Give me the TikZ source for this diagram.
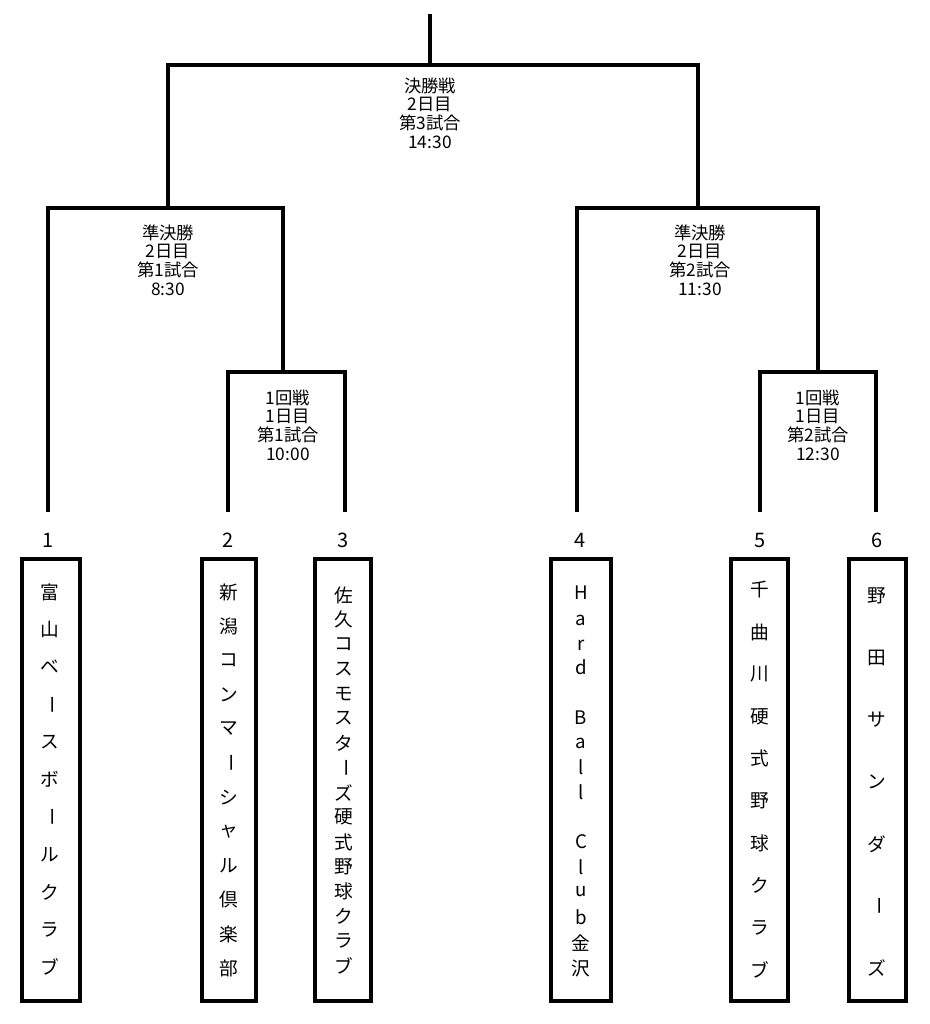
\documentclass[tikz,border=0pt]{standalone}
\usepackage{fontspec}
\setmainfont{Noto Sans CJK JP}
\begin{document}
\begin{tikzpicture}[x=0.75pt,y=-0.75pt,
  ln/.style={line width=2.3pt},
  bx/.style={draw,line width=3.6pt},
  lab/.style={font=\fontsize{13}{15}\selectfont,align=center,inner sep=0pt},
  ch/.style={font=\fontsize{14}{16}\selectfont,inner sep=0pt},
  num/.style={font=\fontsize{15}{17}\selectfont,inner sep=0pt}]
\useasboundingbox (0,0) rectangle (930,1024);
% coordinates
\coordinate (top) at (430,14);
\coordinate (f) at (430,65);
\coordinate (fl) at (168,65); \coordinate (fr) at (698,65);
\coordinate (sl) at (168,208); \coordinate (sr) at (698,208);
\coordinate (sll) at (48,208); \coordinate (slr) at (283,208);
\coordinate (srl) at (577,208); \coordinate (srr) at (818,208);
\coordinate (ql) at (283,372); \coordinate (qr) at (818,372);
\coordinate (qll) at (228,372); \coordinate (qlr) at (345,372);
\coordinate (qrl) at (760,372); \coordinate (qrr) at (876,372);
\coordinate (e1) at (48,512); \coordinate (e2) at (228,512); \coordinate (e3) at (345,512);
\coordinate (e4) at (577,512); \coordinate (e5) at (760,512); \coordinate (e6) at (876,512);
\draw[ln] (top) -- (f);
\draw[ln] (sl) -- (fl) -- (fr) -- (sr);
\draw[ln] (e1) -- (sll) -- (slr) -- (ql);
\draw[ln] (e4) -- (srl) -- (srr) -- (qr);
\draw[ln] (e2) -- (qll) -- (qlr) -- (e3);
\draw[ln] (e5) -- (qrl) -- (qrr) -- (e6);
% labels
\node[lab] (Lf) at (430,113) {決勝戦\\[-1pt]2日目\\[-1pt]第3試合\\[-1pt]14:30};
\node[lab] (Ls1) at (168,260) {準決勝\\[-1pt]2日目\\[-1pt]第1試合\\[-1pt]8:30};
\node[lab] (Ls2) at (700,260) {準決勝\\[-1pt]2日目\\[-1pt]第2試合\\[-1pt]11:30};
\node[lab] (Lq1) at (288,425) {1回戦\\[-1pt]1日目\\[-1pt]第1試合\\[-1pt]10:00};
\node[lab] (Lq2) at (818,425) {1回戦\\[-1pt]1日目\\[-1pt]第2試合\\[-1pt]12:30};
% numbers
\foreach \n/\x in {1/48,2/228,3/343,4/580,5/760,6/877}
  \node[num] (n\n) at (\x,540) {\n};
% boxes
\foreach \i/\a/\b in {1/22/80,2/202/256,3/315/371,4/551/611,5/731/788,6/849/906}
  \draw[bx] (\a,559) rectangle (\b,1001);
% vertical texts
\newcommand\vchars[4]{% x, y0, step, list
  \foreach \c [count=\k from 0] in {#4}{
    \ifx\c\chouon
      \node[ch,rotate=-90] at (#1,#2+\k*#3) {ー};
    \else
      \node[ch] at (#1,#2+\k*#3) {\c};
    \fi}}
\def\chouon{L}
\vchars{50}{592}{37.5}{富,山,ベ,L,ス,ボ,L,ル,ク,ラ,ブ}
\vchars{229}{592}{34.2}{新,潟,コ,ン,マ,L,シ,ャ,ル,倶,楽,部}
\vchars{344}{595}{24.7}{佐,久,コ,ス,モ,ス,タ,L,ズ,硬,式,野,球,ク,ラ,ブ}
\vchars{760}{590}{42.2}{千,曲,川,硬,式,野,球,ク,ラ,ブ}
\vchars{877}{596}{62}{野,田,サ,ン,ダ,L,ズ}
\foreach \c/\y in {H/593,a/620,r/645,d/667,B/718,a/743,l/767,l/792,C/842,l/867,u/892,b/917,金/943,沢/968}
  \node[ch] at (581,\y) {\c};
\end{tikzpicture}
\end{document}
